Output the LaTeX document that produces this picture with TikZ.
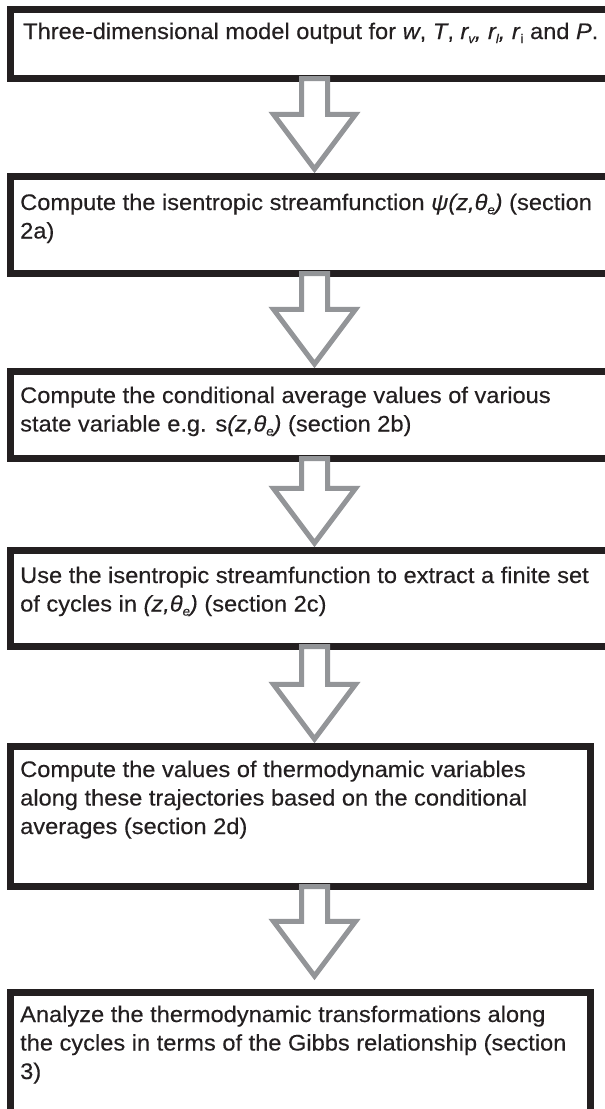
\documentclass[tikz,border=0pt]{standalone}
\usepackage{fontspec}
\setmainfont{Liberation Sans}[FakeStretch=1.05,FakeBold=0.3]
\usetikzlibrary{calc}
\definecolor{ink}{HTML}{231F20}
\definecolor{arrowgray}{HTML}{939598}
\tikzset{
  stepbox/.style={draw=ink, line width=7pt, outer sep=0pt, inner sep=0pt, anchor=north west, fill=white},
  flowarrow/.style={draw=arrowgray, line width=5pt, fill=white, line join=miter, miter limit=10},
  boxtext/.style={anchor=base west, inner sep=0pt, text=ink, font=\fontsize{22.5}{28.5}\selectfont}
}
\newcommand\blockarrow[3]{%
  \coordinate (tip-#2) at ($(#2.north -| axis)+(0,-#3)$);
  \draw[flowarrow] ($(#1.south -| axis)+(-13,0)$) -- ($(tip-#2)+(-13,-54.6)$)
     -- ($(tip-#2)+(-41,-54.6)$) -- (tip-#2) -- ($(tip-#2)+(41,-54.6)$)
     -- ($(tip-#2)+(13,-54.6)$) -- ($(#1.south -| axis)+(13,0)$) -- cycle;
}
\newcommand\sbs[1]{\raisebox{-0.18em}{\fontsize{12.5}{12.5}\selectfont #1}}
\newcommand\linesbox[1]{\parbox[t]{600pt}{\raggedright #1}}
\begin{document}
\begin{tikzpicture}[x=1pt,y=-1pt]
\useasboundingbox (0,0) rectangle (605,1109);
\fill[white] (0,0) rectangle (605,1109);
\clip (0,0) rectangle (605,1109);
\coordinate (axis) at (314.5,0);

\node[stepbox, minimum width=620, minimum height=69] (b1) at (10.5,9.5) {};
\node[stepbox, minimum width=620, minimum height=97] (b2) at (10.5,176.5) {};
\node[stepbox, minimum width=620, minimum height=87] (b3) at (10.5,371.5) {};
\node[stepbox, minimum width=620, minimum height=96] (b4) at (10.5,550.5) {};
\node[stepbox, minimum width=580, minimum height=140] (b5) at (10.5,746.5) {};
\node[stepbox, minimum width=580, minimum height=140] (b6) at (10.5,992.5) {};

\node[boxtext] (t1) at (23,39) {\linesbox{Three-dimensional model output for \textit{w}, \textit{T}, \textit{r\sbs{v}, r\sbs{l}, r}\sbs{i} and \textit{P}.}};
\node[boxtext] (t2) at (20,210) {\linesbox{Compute the isentropic streamfunction \textit{ψ(z,θ\sbs{e})} (section\\2a)}};
\node[boxtext] (t3) at (20,403) {\linesbox{Compute the conditional average values of various\\state variable e.g. s\textit{(z,θ\sbs{e})} (section 2b)}};
\node[boxtext] (t4) at (20,583) {\linesbox{Use the isentropic streamfunction to extract a finite set\\of cycles in \textit{(z,θ\sbs{e})} (section 2c)}};
\node[boxtext] (t5) at (20,777) {\linesbox{Compute the values of thermodynamic variables\\along these trajectories based on the conditional\\averages (section 2d)}};
\node[boxtext] (t6) at (20,1022) {\linesbox{Analyze the thermodynamic transformations along\\the cycles in terms of the Gibbs relationship (section\\3)}};

\blockarrow{b1}{b2}{7.5}
\blockarrow{b2}{b3}{7.5}
\blockarrow{b3}{b4}{7.5}
\blockarrow{b4}{b5}{7.5}
\blockarrow{b5}{b6}{16.5}
\end{tikzpicture}
\end{document}
